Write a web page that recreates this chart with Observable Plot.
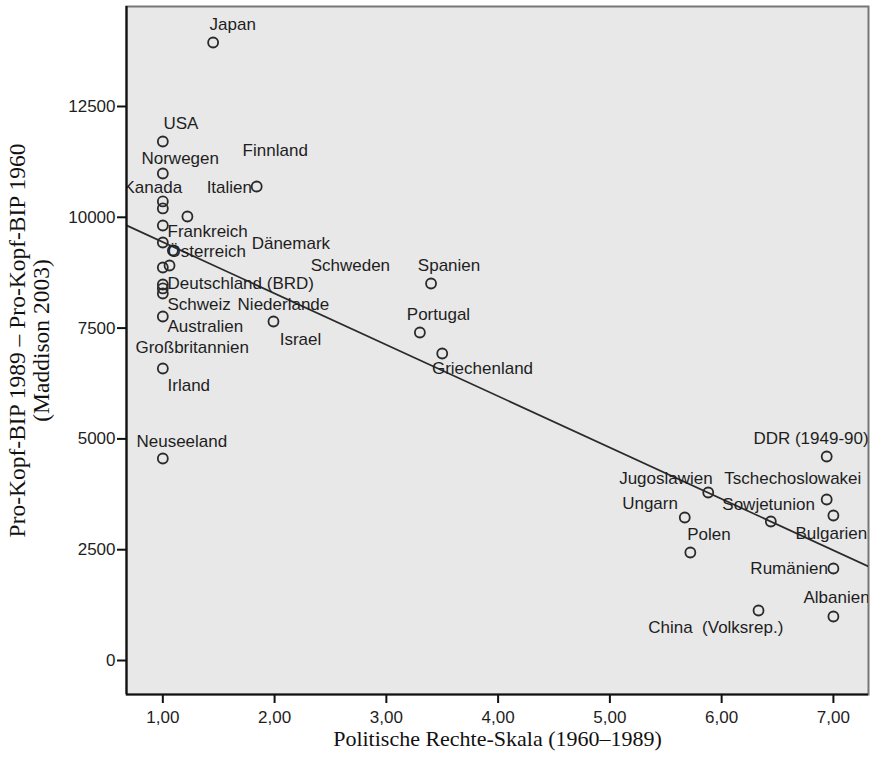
<!DOCTYPE html>
<html>
<head>
<meta charset="utf-8">
<script src="https://cdn.jsdelivr.net/npm/d3@7"></script>
<script src="https://cdn.jsdelivr.net/npm/@observablehq/plot@0.6"></script>
<style>
  html, body { margin: 0; padding: 0; background: #ffffff; }
  #chart { width: 873px; height: 763px; }
</style>
</head>
<body>
<div id="chart"></div>
<script>
// ---- Data ----
// Scatter points: political rights scale (x) and per-capita GDP growth 1960–1989 (y)
const pointX = [1.45, 1.00, 1.00, 1.00, 1.00, 1.22, 1.84, 1.00, 1.00, 1.09, 1.00, 1.06,
                1.00, 1.00, 1.00, 1.00, 1.99, 3.40, 3.30, 3.50, 1.00, 1.00,
                6.94, 5.88, 6.94, 7.00, 5.67, 6.44, 5.72, 7.00, 6.33, 7.00];
const pointY = [13944, 11710, 10988, 10357, 10199, 10018, 10695, 9815, 9431, 9251, 8867, 8912,
                8484, 8394, 8281, 7762, 7649, 8506, 7401, 6927, 6588, 4558,
                4603, 3791, 3633, 3272, 3227, 3136, 2437, 2076, 1128, 993];

// Country labels and where they sit (in data units)
const labelText = ["Japan", "USA", "Norwegen", "Finnland", "Kanada", "Italien", "Frankreich",
  "Dänemark", "Österreich", "Schweden", "Spanien", "Deutschland (BRD)", "Schweiz",
  "Niederlande", "Portugal", "Australien", "Israel", "Großbritannien", "Griechenland",
  "Irland", "Neuseeland", "DDR (1949-90)", "Jugoslawien", "Tschechoslowakei", "Ungarn",
  "Sowjetunion", "Bulgarien", "Polen", "Rumänien", "Albanien", "China\u00a0 (Volksrep.)"];
const labelX = [1.418, 1.006, 0.809, 1.714, 0.648, 1.392, 1.042, 1.795, 1.042, 2.323, 3.282,
  1.042, 1.042, 1.669, 3.183, 1.042, 2.046, 0.755, 3.408, 1.042, 0.764,
  6.284, 5.083, 6.024, 5.110, 6.006, 6.660, 5.692, 6.257, 6.732, 5.343];
const labelY = [14350, 12116, 11327, 11507, 10672, 10672, 9680, 9409, 9228, 8912, 8912,
  8506, 8032, 8032, 7807, 7536, 7243, 7062, 6588, 6205, 4941,
  5009, 4107, 4107, 3542, 3520, 2866, 2843, 2076, 1421, 745];

// Axes
const xDomain = [0.675, 7.314];
const yDomain = [-767, 14756];
const xTicks = [1, 2, 3, 4, 5, 6, 7];
const xTickLabels = ["1,00", "2,00", "3,00", "4,00", "5,00", "6,00", "7,00"];
const yTicks = [0, 2500, 5000, 7500, 10000, 12500];
const xTitle = "Politische Rechte-Skala (1960–1989)";
const yTitle = "Pro-Kopf-BIP 1989 – Pro-Kopf-BIP 1960\n(Maddison 2003)";

// ---- Build tables ----
const points = pointX.map((x, i) => ({x, y: pointY[i]}));
const labels = labelText.map((t, i) => ({t, x: labelX[i], y: labelY[i]}));

// Least-squares fit line, drawn across the whole frame
const mx = d3.mean(pointX), my = d3.mean(pointY);
const slope = d3.sum(pointX, (x, i) => (x - mx) * (pointY[i] - my)) / d3.sum(pointX, x => (x - mx) ** 2);
const intercept = my - slope * mx;
const fit = xDomain.map(x => ({x, y: intercept + slope * x}));

const serif = "'Liberation Serif', 'Times New Roman', serif";

const chart = Plot.plot({
  width: 873,
  height: 763,
  marginLeft: 126,
  marginRight: 5,
  marginTop: 6,
  marginBottom: 69,
  style: {background: "#ffffff", fontFamily: "'Liberation Sans', Arial, sans-serif", color: "#222"},
  x: {domain: xDomain},
  y: {domain: yDomain},
  marks: [
    Plot.frame({fill: "#e8e8e8", stroke: "#777777", strokeWidth: 2}),
    Plot.line(fit, {x: "x", y: "y", stroke: "#2b2b2b", strokeWidth: 1.7, clip: true}),
    Plot.dot(points, {x: "x", y: "y", r: 5, stroke: "#2a2a2a", strokeWidth: 1.8, fill: "none"}),
    Plot.text(labels, {x: "x", y: "y", text: "t", textAnchor: "start", fontSize: 17, fill: "#1e1e1e", clip: true}),
    Plot.ruleX([xDomain[0]], {stroke: "#111", strokeWidth: 2.2}),
    Plot.ruleY([yDomain[0]], {stroke: "#111", strokeWidth: 2.2}),
    Plot.axisX({ticks: xTicks, tickFormat: d => xTickLabels[xTicks.indexOf(d)], tickSize: 9, tickPadding: 7,
                strokeWidth: 2, stroke: "#111", fontSize: 17, fill: "#1e1e1e", label: null}),
    Plot.axisY({ticks: yTicks, tickFormat: d => String(d), tickSize: 9, tickPadding: 2,
                strokeWidth: 2, stroke: "#111", fontSize: 17, fill: "#1e1e1e", label: null}),
    Plot.text([xTitle], {frameAnchor: "bottom", dy: 51, text: d => d, fontFamily: serif,
                fontSize: 22, fill: "#111"}),
    Plot.text([yTitle], {frameAnchor: "left", textAnchor: "middle", lineAnchor: "middle", rotate: -90,
                dx: -97, dy: -10, text: d => d, lineHeight: 1.0,
                fontFamily: serif, fontSize: 23.5, fill: "#111"})
  ]
});
document.getElementById("chart").appendChild(chart);
</script>
</body>
</html>
